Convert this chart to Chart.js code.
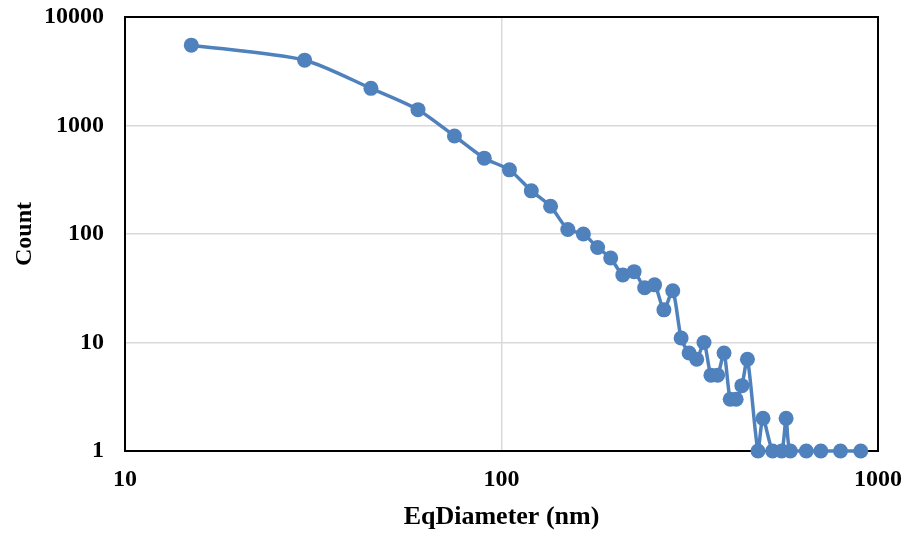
<!DOCTYPE html>
<html>
<head>
<meta charset="utf-8">
<script src="https://cdn.jsdelivr.net/npm/chart.js@4/dist/chart.umd.min.js"></script>
<style>
  html, body { margin: 0; padding: 0; background: #fff; }
  #wrap { width: 906px; height: 533px; position: relative; }
</style>
</head>
<body>
<div id="wrap"><canvas id="c" width="906" height="533"></canvas></div>
<script>
// Particle size distribution: equivalent diameter (nm) vs. count
const diameters = [15, 30, 45, 60, 75, 90, 105, 120, 135, 150, 165, 180, 195, 210, 225,
  240, 255, 270, 285, 300, 315, 330, 345, 360, 375, 390, 405, 420, 435, 450,
  480, 495, 525, 555, 570, 585, 645, 705, 795, 900];
const counts = [5500, 4000, 2200, 1400, 800, 500, 390, 250, 180, 110, 100, 75, 60, 42, 45,
  32, 34, 20, 30, 11, 8, 7, 10, 5, 5, 8, 3, 3, 4, 7,
  1, 2, 1, 1, 2, 1, 1, 1, 1, 1];
const xTicks = [10, 100, 1000];
const yTicks = [1, 10, 100, 1000, 10000];

const points = diameters.map((d, i) => ({ x: d, y: counts[i] }));

const FONT = "'Liberation Serif', 'Times New Roman', serif";
const BLUE = '#4F81BD';

// Black frame round the plot area, drawn under the series
const frame = {
  id: 'frame',
  beforeDatasetsDraw(chart) {
    const { ctx, chartArea: a } = chart;
    ctx.save();
    ctx.strokeStyle = '#000';
    ctx.lineWidth = 2;
    ctx.strokeRect(a.left, a.top, a.right - a.left, a.bottom - a.top);
    ctx.restore();
  }
};

new Chart(document.getElementById('c'), {
  type: 'scatter',
  data: {
    datasets: [{
      data: points,
      showLine: true,
      borderColor: BLUE,
      backgroundColor: BLUE,
      borderWidth: 3.5,
      pointRadius: 7.5,
      pointHoverRadius: 7.5,
      pointBorderWidth: 0,
      tension: 0.25,
      clip: false
    }]
  },
  options: {
    responsive: false,
    animation: false,
    events: [],
    layout: { padding: { top: 17, right: 28, left: 0, bottom: 0 } },
    plugins: { legend: { display: false }, tooltip: { enabled: false } },
    scales: {
      x: {
        type: 'logarithmic',
        min: 10,
        max: 1000,
        afterBuildTicks(s) { s.ticks = xTicks.map(v => ({ value: v })); },
        afterFit(s) { s.height = 82; s.paddingLeft = 0; s.paddingRight = 0; },
        grid: { color: '#d9d9d9', lineWidth: 1.5, drawTicks: false },
        border: { display: false },
        ticks: {
          padding: 14,
          color: '#000',
          maxRotation: 0,
          font: { family: FONT, size: 24, weight: 'bold' },
          callback: v => String(v)
        },
        title: {
          display: true,
          text: 'EqDiameter (nm)',
          color: '#000',
          padding: { top: 0, bottom: 0 },
          font: { family: FONT, size: 26, weight: 'bold' }
        }
      },
      y: {
        type: 'logarithmic',
        min: 1,
        max: 10000,
        afterBuildTicks(s) { s.ticks = yTicks.map(v => ({ value: v })); },
        afterFit(s) { s.width = 125; s.paddingTop = 0; s.paddingBottom = 0; },
        grid: { color: '#d9d9d9', lineWidth: 1.5, drawTicks: false },
        border: { display: false },
        ticks: {
          padding: 21,
          color: '#000',
          font: { family: FONT, size: 24, weight: 'bold' },
          callback: v => String(v)
        },
        title: {
          display: true,
          text: 'Count',
          color: '#000',
          padding: { top: 10, bottom: 0 },
          font: { family: FONT, size: 24, weight: 'bold' }
        }
      }
    }
  },
  plugins: [frame]
});
</script>
</body>
</html>
